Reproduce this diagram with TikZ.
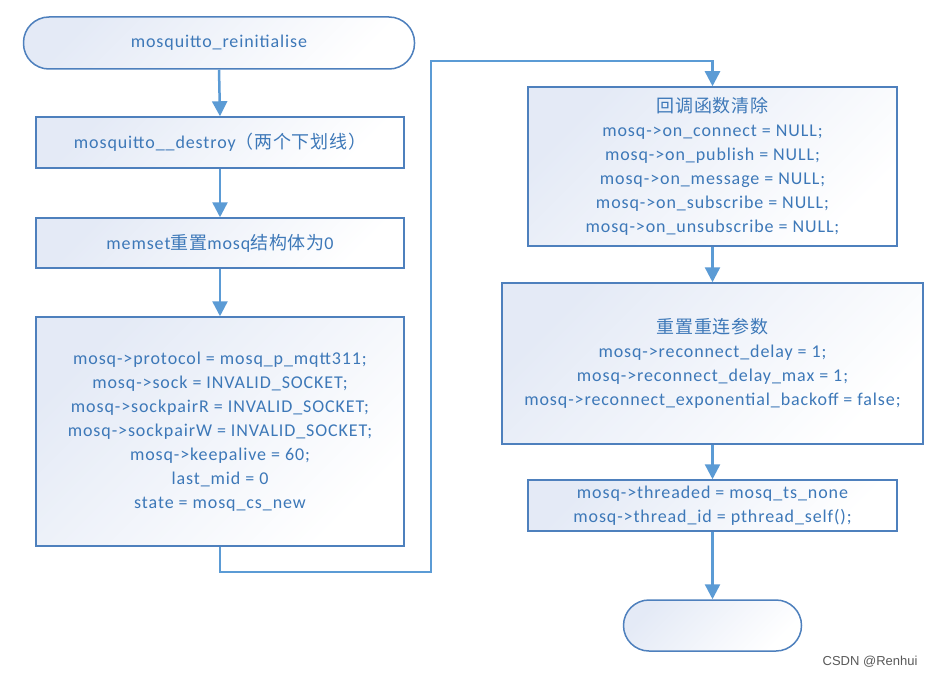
\documentclass[tikz,border=0pt]{standalone}
\usepackage{fontspec}
\setmainfont[LetterSpace=5]{Carlito}
\newfontfamily\cjk[LetterSpace=4]{Noto Sans CJK SC}
\newfontfamily\wmfont{Liberation Sans}
\usetikzlibrary{arrows.meta}
\definecolor{edgec}{HTML}{4E80BD}
\definecolor{connc}{HTML}{5B9BD5}
\definecolor{txtc}{HTML}{3D78B8}
\definecolor{fillc}{HTML}{E4EAF6}
\tikzset{
  flowbox/.style={draw=edgec, line width=1.5pt, top color=fillc, bottom color=white, shading angle=45,
    text=txtc, align=center, inner sep=0pt, font=\fontsize{18}{24}\selectfont},
  termbox/.style={flowbox, rounded corners=25.5pt},
  conn/.style={draw=connc, line width=2.5pt, -{Triangle[length=15pt,width=15pt]}},
  connplain/.style={draw=connc, line width=2.5pt}
}
\begin{document}
\begin{tikzpicture}[x=1pt,y=-1pt]
\useasboundingbox (0,0) rectangle (934,677);
\fill[white] (0,0) rectangle (934,677);
% left column
\node[termbox, minimum width=391pt, minimum height=52pt] (start) at (219,43) {mosquitto\_reinitialise};
\node[flowbox, minimum width=368pt, minimum height=51pt] (destroy) at (220,142.5) {mosquitto\_\_destroy{\cjk （两个下划线）}};
\node[flowbox, minimum width=368pt, minimum height=50pt] (memset) at (220,243) {memset{\cjk 重置}mosq{\cjk 结构体为}0};
\node[flowbox, minimum width=368pt, minimum height=229pt] (fields) at (220,431.5) {mosq->protocol = mosq\_p\_mqtt311;\\mosq->sock = INVALID\_SOCKET;\\mosq->sockpairR = INVALID\_SOCKET;\\mosq->sockpairW = INVALID\_SOCKET;\\mosq->keepalive = 60;\\last\_mid = 0\\state = mosq\_cs\_new};
% right column
\node[flowbox, minimum width=369pt, minimum height=159pt] (callbacks) at (712.5,166.5) {{\cjk 回调函数清除}\\mosq->on\_connect = NULL;\\mosq->on\_publish = NULL;\\mosq->on\_message = NULL;\\mosq->on\_subscribe = NULL;\\mosq->on\_unsubscribe = NULL;};
\node[flowbox, minimum width=421pt, minimum height=161pt] (reconnect) at (712.5,363.5) {{\cjk 重置重连参数}\\mosq->reconnect\_delay = 1;\\mosq->reconnect\_delay\_max = 1;\\mosq->reconnect\_exponential\_backoff = false;};
\node[flowbox, minimum width=369pt, minimum height=51pt] (thread) at (712.5,505.5) {mosq->threaded = mosq\_ts\_none\\mosq->thread\_id = pthread\_self();};
\node[termbox, minimum width=178pt, minimum height=51pt] (finish) at (712.5,625.5) {};
% connectors
\draw[conn] (start.south) -- (destroy.north);
\draw[conn] (destroy) -- (memset);
\draw[conn] (memset) -- (fields);
\coordinate (lowturn) at (431,572);
\coordinate (highturn) at (431,61);
\draw[conn] (fields.south) |- (lowturn) -- (highturn) -| (callbacks.north);
\draw[conn] (callbacks) -- (reconnect);
\draw[conn] (reconnect) -- (thread);
\draw[conn] (thread) -- (finish);
% watermark
\node[text=black!65, font=\wmfont\fontsize{13}{13}\selectfont, anchor=east] (wm) at (921,662) {CSDN @Renhui};
\end{tikzpicture}
\end{document}
